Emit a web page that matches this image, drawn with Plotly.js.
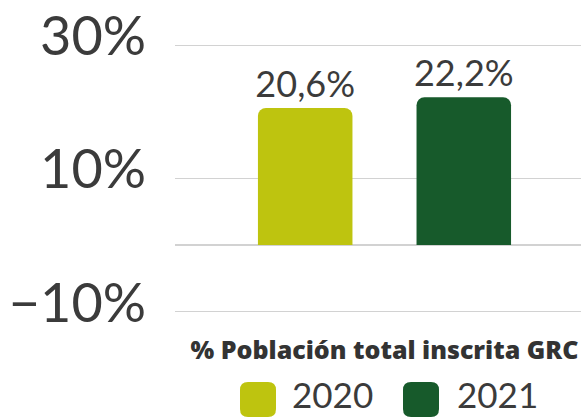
<!DOCTYPE html>
<html>
<head>
<meta charset="utf-8">
<script src="https://cdn.plot.ly/plotly-3.0.1.min.js"></script>
<style>
  html, body { margin: 0; padding: 0; background: #fff; overflow: hidden; }
  #Graph { width: 581px; height: 417px; }
</style>
</head>
<body>
<div id="Graph"></div>
<script>
var categories = ['% Población total inscrita GRC'];
var years = ['2020', '2021'];
var values2020 = [20.6];
var values2021 = [22.2];
var yearColors = ['#bec40f', '#175a2b'];
var yTicks = [-10, 10, 30];
var yTickText = ['\u221210%', '10%', '30%'];

// plot box in page pixels, used to place the hand made legend
var plotLeft = 175, plotRight = 581, plotTop = 42, plotBottom = 315;

function px2x(p) { return (p - plotLeft) / (plotRight - plotLeft); }
function px2y(p) { return (plotBottom - p) / (plotBottom - plotTop); }

function roundSquare(x0, y0, x1, y1, r) {
	//rounded square path in paper units, input in pixels
	var X = px2x, Y = px2y;
	return 'M' + X(x0 + r) + ',' + Y(y0) +
		' L' + X(x1 - r) + ',' + Y(y0) +
		' Q' + X(x1) + ',' + Y(y0) + ' ' + X(x1) + ',' + Y(y0 + r) +
		' L' + X(x1) + ',' + Y(y1 - r) +
		' Q' + X(x1) + ',' + Y(y1) + ' ' + X(x1 - r) + ',' + Y(y1) +
		' L' + X(x0 + r) + ',' + Y(y1) +
		' Q' + X(x0) + ',' + Y(y1) + ' ' + X(x0) + ',' + Y(y1 - r) +
		' L' + X(x0) + ',' + Y(y0 + r) +
		' Q' + X(x0) + ',' + Y(y0) + ' ' + X(x0 + r) + ',' + Y(y0) + ' Z';
}

var textFont = 'Lato, "Open Sans", sans-serif';
var boldFont = '"Open Sans", Lato, sans-serif';

var trace1 = {
	type: 'bar',
	x: categories,
	y: values2020,
	name: years[0],
	marker: { color: yearColors[0] },
	texttemplate: '%{y:.1f}%',
	textposition: 'outside',
	constraintext: 'none',
	cliponaxis: false,
	textfont: { family: textFont, size: 36, color: '#3b3b3b' },
	showlegend: false,
	hoverinfo: 'skip'
};

var trace2 = {
	type: 'bar',
	x: categories,
	y: values2021,
	name: years[1],
	marker: { color: yearColors[1] },
	texttemplate: '%{y:.1f}%',
	textposition: 'outside',
	constraintext: 'none',
	cliponaxis: false,
	textfont: { family: textFont, size: 36, color: '#3b3b3b' },
	showlegend: false,
	hoverinfo: 'skip'
};

var data = [trace1, trace2];

var layout = {
	width: 581,
	height: 417,
	margin: { l: plotLeft, r: 581 - plotRight, t: plotTop, b: 417 - plotBottom, pad: 0 },
	paper_bgcolor: '#fff',
	plot_bgcolor: '#fff',
	separators: ',.',
	barmode: 'group',
	bargap: 0.243,
	bargroupgap: 0.404,
	barcornerradius: 8,
	showlegend: false,
	xaxis: {
		type: 'category',
		range: [-0.5, 0.469],
		showgrid: false,
		zeroline: false,
		showline: false,
		ticks: '',
		ticklabelstandoff: 18,
		tickfont: { family: boldFont, size: 25, color: '#333', weight: 800 }
	},
	yaxis: {
		range: [-10.5, 30.5],
		tickvals: yTicks,
		ticktext: yTickText,
		showgrid: true,
		gridcolor: '#d2d2d2',
		gridwidth: 1.5,
		zeroline: true,
		zerolinecolor: '#d2d2d2',
		zerolinewidth: 1.5,
		showline: false,
		ticks: '',
		ticklabelstandoff: 28,
		ticklabelshift: -9,
		tickfont: { family: textFont, size: 54, color: '#3b3b3b' }
	},
	shapes: [
		{ type: 'path', xref: 'paper', yref: 'paper', path: roundSquare(240, 382, 276, 417, 8),
		  fillcolor: yearColors[0], line: { width: 0 } },
		{ type: 'path', xref: 'paper', yref: 'paper', path: roundSquare(403, 382, 439, 417, 8),
		  fillcolor: yearColors[1], line: { width: 0 } }
	],
	annotations: [
		{ xref: 'paper', yref: 'paper', x: px2x(290), y: px2y(417), xanchor: 'left', yanchor: 'bottom',
		  text: years[0], showarrow: false, font: { family: textFont, size: 35, color: '#3b3b3b' } },
		{ xref: 'paper', yref: 'paper', x: px2x(455), y: px2y(417), xanchor: 'left', yanchor: 'bottom',
		  text: years[1], showarrow: false, font: { family: textFont, size: 35, color: '#3b3b3b' } }
	]
};

Plotly.newPlot('Graph', data, layout, { displayModeBar: false, staticPlot: true });
</script>
</body>
</html>
